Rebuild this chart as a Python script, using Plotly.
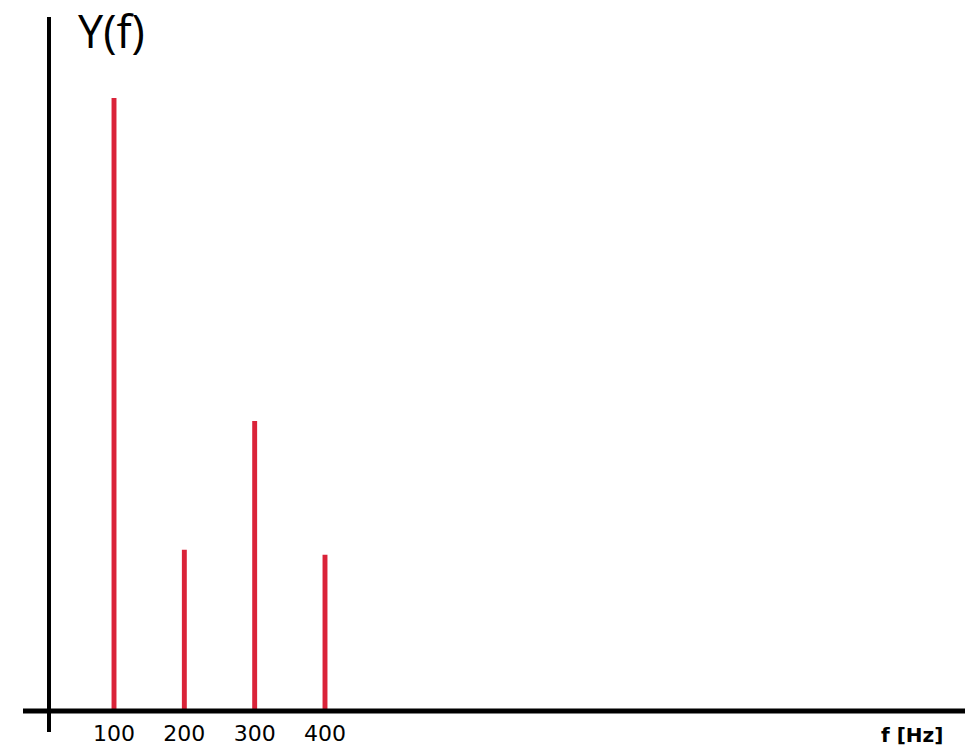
import plotly.graph_objects as go

freqs = [100, 200, 300, 400]
amplitudes = [1.0, 0.263, 0.473, 0.255]
tick_labels = ["100", "200", "300", "400"]

W, H = 970, 746
L, R, T, B = 23, 5, 17, 35
plot_w = W - L - R
plot_h = H - T - B

fig = go.Figure()
fig.add_trace(go.Bar(
    x=freqs, y=amplitudes, width=7,
    marker=dict(color="#DA2339", line=dict(width=0)),
    hoverinfo="skip",
))

def px_x(p):  # pixel -> paper x
    return (p - L) / plot_w

def px_y(p):  # pixel -> paper y
    return (H - B - p) / plot_h

fig.update_layout(
    width=W, height=H,
    margin=dict(l=L, r=R, t=T, b=B),
    paper_bgcolor="white", plot_bgcolor="white",
    showlegend=False,
    xaxis=dict(range=[-29.4, 1310], showgrid=False, zeroline=False, showline=False,
               tickmode="array", tickvals=freqs, ticktext=tick_labels, ticks="",
               ticklabelstandoff=7, automargin=False,
               tickfont=dict(family="DejaVu Sans", size=22, color="black")),
    yaxis=dict(range=[0, 1.132], showgrid=False, zeroline=False, showline=False,
               showticklabels=False, ticks="", automargin=False),
    shapes=[
        dict(type="line", xref="paper", yref="paper", layer="above",
             x0=px_x(23), x1=px_x(965), y0=px_y(711), y1=px_y(711),
             line=dict(color="black", width=5)),
        dict(type="line", xref="paper", yref="paper", layer="above",
             x0=px_x(49), x1=px_x(49), y0=px_y(17), y1=px_y(732),
             line=dict(color="black", width=4)),
    ],
    annotations=[
        dict(text="Y(f)", xref="paper", yref="paper", x=px_x(76), y=px_y(-2),
             xanchor="left", yanchor="top", showarrow=False,
             font=dict(family="Open Sans", size=45, color="black")),
        dict(text="<b>f [Hz]</b>", xref="paper", yref="paper", x=px_x(945), y=px_y(749),
             xanchor="right", yanchor="bottom", showarrow=False,
             font=dict(family="DejaVu Sans", size=20, color="black")),
    ],
)

fig.write_html("out.html", config={"displayModeBar": False},
               post_script="document.body.style.margin='0';document.body.style.overflow='hidden';")
